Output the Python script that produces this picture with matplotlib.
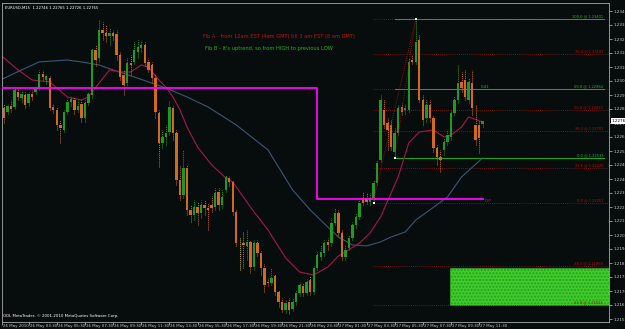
import matplotlib
matplotlib.use('Agg')
import matplotlib.pyplot as plt
import matplotlib.transforms as mtransforms
from matplotlib.patches import Rectangle
import numpy as np

# EURUSD M15, 26-27 May 2010 (prices)
opens = [1.22845, 1.22820, 1.22858, 1.22851, 1.22945, 1.22908, 1.22926, 1.22876, 1.22933, 1.22945,
         1.22970, 1.23058, 1.23020, 1.23033, 1.22851, 1.22833, 1.22739, 1.22708, 1.22820, 1.22883,
         1.22895, 1.22833, 1.22870, 1.22783, 1.22876, 1.22926, 1.23208, 1.23158, 1.23332, 1.23314,
         1.23295, 1.23314, 1.23308, 1.23176, 1.23051, 1.23001, 1.23126, 1.23133, 1.23195, 1.23220,
         1.23239, 1.23133, 1.23114, 1.23033, 1.22814, 1.22626, 1.22664, 1.22695, 1.22845, 1.22689,
         1.22395, 1.22301, 1.22470, 1.22208, 1.22176, 1.22226, 1.22189, 1.22239, 1.22220, 1.22239,
         1.22226, 1.22320, 1.22239, 1.22333, 1.22408, 1.22383, 1.22195, 1.22001, 1.22001, 1.21983,
         1.22008, 1.21851, 1.22001, 1.21939, 1.21845, 1.21758, 1.21751, 1.21795, 1.21695, 1.21633,
         1.21583, 1.21633, 1.21589, 1.21633, 1.21689, 1.21733, 1.21689, 1.21770, 1.21695, 1.21845,
         1.21914, 1.21939, 1.22008, 1.22001, 1.22126, 1.22189, 1.22064, 1.21914, 1.21970, 1.22033,
         1.22114, 1.22164, 1.22283, 1.22283, 1.22258, 1.22283, 1.22376, 1.22520, 1.22833, 1.22751,
         1.22739, 1.22570, 1.22689, 1.22851, 1.22833, 1.22833, 1.23145, 1.23133, 1.23270, 1.22895,
         1.22783, 1.22864, 1.22783, 1.22595, 1.22539, 1.22583, 1.22633, 1.22664, 1.22814, 1.22895,
         1.23008, 1.23020, 1.22895, 1.23001, 1.22739, 1.22739, 1.22746]
highs = [1.22870, 1.22870, 1.22895, 1.22970, 1.22970, 1.22958, 1.22945, 1.22945, 1.22958, 1.22983,
         1.23083, 1.23083, 1.23058, 1.23045, 1.22870, 1.22851, 1.22770, 1.22833, 1.22908, 1.22920,
         1.22914, 1.22895, 1.22895, 1.22895, 1.22945, 1.23220, 1.23239, 1.23395, 1.23382, 1.23364,
         1.23345, 1.23332, 1.23332, 1.23195, 1.23083, 1.23158, 1.23176, 1.23258, 1.23270, 1.23270,
         1.23258, 1.23158, 1.23133, 1.23058, 1.22833, 1.22708, 1.22739, 1.22895, 1.22864, 1.22708,
         1.22483, 1.22583, 1.22489, 1.22239, 1.22270, 1.22258, 1.22270, 1.22270, 1.22251, 1.22295,
         1.22345, 1.22345, 1.22333, 1.22426, 1.22420, 1.22395, 1.22208, 1.22039, 1.22070, 1.22083,
         1.22020, 1.22020, 1.22020, 1.21958, 1.21870, 1.21783, 1.21845, 1.21808, 1.21708, 1.21658,
         1.21645, 1.21658, 1.21658, 1.21708, 1.21758, 1.21751, 1.21776, 1.21795, 1.21858, 1.21945,
         1.21989, 1.22020, 1.22033, 1.22158, 1.22220, 1.22208, 1.22083, 1.21989, 1.22051, 1.22133,
         1.22189, 1.22270, 1.22320, 1.22314, 1.22314, 1.22395, 1.22520, 1.22926, 1.22895, 1.22783,
         1.22770, 1.22720, 1.22864, 1.22876, 1.22870, 1.23158, 1.23176, 1.23401, 1.23301, 1.22926,
         1.22895, 1.22895, 1.22801, 1.22614, 1.22583, 1.22658, 1.22708, 1.22833, 1.22920, 1.23114,
         1.23070, 1.23083, 1.23033, 1.23083, 1.22864, 1.22770, 1.22765]
lows = [1.22751, 1.22808, 1.22820, 1.22839, 1.22895, 1.22883, 1.22845, 1.22858, 1.22895, 1.22933,
        1.22958, 1.23020, 1.22995, 1.22833, 1.22814, 1.22708, 1.22626, 1.22695, 1.22808, 1.22858,
        1.22808, 1.22820, 1.22758, 1.22758, 1.22864, 1.22908, 1.23108, 1.23133, 1.23270, 1.23258,
        1.23239, 1.23270, 1.23145, 1.23020, 1.22926, 1.22983, 1.23051, 1.23120, 1.23158, 1.23195,
        1.23108, 1.23070, 1.23008, 1.22783, 1.22476, 1.22595, 1.22614, 1.22676, 1.22645, 1.22364,
        1.22270, 1.22283, 1.22176, 1.22133, 1.22145, 1.22114, 1.22158, 1.22176, 1.22083, 1.22195,
        1.22208, 1.22208, 1.22220, 1.22320, 1.22358, 1.22176, 1.21983, 1.21833, 1.21845, 1.21895,
        1.21814, 1.21833, 1.21920, 1.21801, 1.21695, 1.21733, 1.21739, 1.21676, 1.21601, 1.21570,
        1.21564, 1.21558, 1.21576, 1.21614, 1.21670, 1.21670, 1.21676, 1.21676, 1.21683, 1.21833,
        1.21895, 1.21920, 1.21958, 1.21983, 1.22114, 1.22045, 1.21895, 1.21895, 1.21958, 1.22020,
        1.22095, 1.22151, 1.22239, 1.22245, 1.22239, 1.22251, 1.22364, 1.22508, 1.22720, 1.22583,
        1.22583, 1.22533, 1.22676, 1.22801, 1.22808, 1.22820, 1.23120, 1.23120, 1.22883, 1.22739,
        1.22758, 1.22758, 1.22570, 1.22489, 1.22445, 1.22551, 1.22614, 1.22645, 1.22801, 1.22876,
        1.22945, 1.22895, 1.22876, 1.22801, 1.22614, 1.22564, 1.22726]
closes = [1.22783, 1.22858, 1.22839, 1.22958, 1.22914, 1.22933, 1.22864, 1.22933, 1.22914, 1.22964,
          1.23058, 1.23039, 1.23045, 1.22845, 1.22833, 1.22739, 1.22720, 1.22820, 1.22883, 1.22901,
          1.22833, 1.22858, 1.22783, 1.22876, 1.22933, 1.23208, 1.23145, 1.23332, 1.23314, 1.23295,
          1.23314, 1.23295, 1.23176, 1.23039, 1.22989, 1.23126, 1.23114, 1.23208, 1.23226, 1.23239,
          1.23126, 1.23083, 1.23033, 1.22820, 1.22626, 1.22664, 1.22689, 1.22851, 1.22689, 1.22395,
          1.22301, 1.22470, 1.22208, 1.22176, 1.22226, 1.22189, 1.22239, 1.22220, 1.22208, 1.22220,
          1.22314, 1.22239, 1.22289, 1.22414, 1.22383, 1.22195, 1.22001, 1.22001, 1.21989, 1.22008,
          1.21851, 1.22001, 1.21939, 1.21845, 1.21739, 1.21751, 1.21783, 1.21695, 1.21633, 1.21583,
          1.21626, 1.21583, 1.21633, 1.21689, 1.21739, 1.21689, 1.21758, 1.21695, 1.21845, 1.21926,
          1.21945, 1.22001, 1.21989, 1.22126, 1.22189, 1.22064, 1.21914, 1.21958, 1.22033, 1.22114,
          1.22164, 1.22251, 1.22251, 1.22258, 1.22283, 1.22376, 1.22501, 1.22895, 1.22739, 1.22708,
          1.22601, 1.22689, 1.22845, 1.22820, 1.22845, 1.23133, 1.23133, 1.23258, 1.22895, 1.22770,
          1.22864, 1.22783, 1.22595, 1.22539, 1.22520, 1.22633, 1.22676, 1.22814, 1.22895, 1.23001,
          1.22970, 1.22914, 1.23008, 1.22845, 1.22645, 1.22658, 1.22765]

# moving averages (bar index, value)
fast_idx = [-1, 4, 8, 13, 18, 22, 24, 27, 30, 33, 36, 39, 41, 44, 46, 48, 50, 52, 55, 59,
            63, 65, 70, 75, 80, 84, 88, 92, 95, 97, 101, 104, 107, 110, 112, 115, 118, 122, 125, 127,
            130, 132, 136]
fast_val = [1.23176, 1.23083, 1.23020, 1.23008, 1.22914, 1.22895, 1.22914, 1.23001, 1.23083, 1.23070,
            1.23070, 1.23114, 1.23101, 1.23020, 1.22976, 1.22914, 1.22833, 1.22726, 1.22601, 1.22489,
            1.22408, 1.22383, 1.22226, 1.22083, 1.21908, 1.21820, 1.21801, 1.21851, 1.21920, 1.21945,
            1.22001, 1.22064, 1.22164, 1.22314, 1.22414, 1.22626, 1.22695, 1.22708, 1.22664, 1.22676,
            1.22726, 1.22789, 1.22758]
slow_idx = [-1, 5, 10, 18, 22, 27, 31, 37, 42, 46, 52, 58, 66, 75, 78, 82, 87, 92, 95, 99,
            103, 107, 110, 114, 117, 121, 126, 130, 136]
slow_val = [1.23020, 1.23083, 1.23133, 1.23145, 1.23133, 1.23114, 1.23083, 1.23039, 1.23001, 1.22970,
            1.22914, 1.22851, 1.22739, 1.22583, 1.22476, 1.22333, 1.22208, 1.22101, 1.22039, 1.21989,
            1.21983, 1.22008, 1.22039, 1.22070, 1.22145, 1.22208, 1.22289, 1.22414, 1.22533]

# pivot line (magenta)
pivot_levels = [1.22970, 1.22276]
pivot_switch = 88.8   # midnight 27 May
pivot_end = 136

# Fibonacci objects
fibA_start, fibA_low_bar, fibA_high_bar = 105, 105, 117
fibA_levels = ['100.0', '76.4', '61.8', '50.0', '38.2', '23.6', '0.0', '-38.2', '-61.8']
fibA_prices = [1.23401, 1.23183, 1.22964, 1.22833, 1.22701, 1.22470, 1.22251, 1.21858, 1.21614]
fibB_start = 111
fibB_levels = ['100.0', '50.0', '0.0']
fibB_prices = [1.23401, 1.22964, 1.22533]

zone_start = 126.7
zone_top, zone_bottom = 1.21845, 1.21614

ytick_vals = [1.23451, 1.23364, 1.23276, 1.23189, 1.23101, 1.23014, 1.22926, 1.22839, 1.22751,
              1.22664, 1.22576, 1.22489, 1.22401, 1.22314, 1.22226, 1.22139, 1.22051, 1.21964,
              1.21876, 1.21789, 1.21701, 1.21614, 1.21526]

date_idx = [-0.5, 7, 15, 23, 31, 39, 47, 55, 63, 71, 79, 87, 95, 103, 111, 119, 127, 135]
date_lbl = ['26 May 2010', '26 May 03:30', '26 May 05:30', '26 May 07:30', '26 May 09:30',
            '26 May 11:30', '26 May 13:30', '26 May 15:30', '26 May 17:30', '26 May 19:30',
            '26 May 21:30', '26 May 23:30', '27 May 01:30', '27 May 03:30', '27 May 05:30',
            '27 May 07:30', '27 May 09:30', '27 May 11:30']

bg = '#070d0c'
bull = '#1f9a1f'
bear = '#d2691e'
doji = '#c8b020'
txt = '#c8c8c8'

fig = plt.figure(figsize=(6.25, 3.29), dpi=100, facecolor=bg)
ax = fig.add_axes([0.0032, 0.0213, 0.9712, 0.9711], facecolor=bg)

x = np.arange(len(opens))
o = np.array(opens); c = np.array(closes); h = np.array(highs); l = np.array(lows)
cols = [doji if oo == cc else (bull if cc > oo else bear) for oo, cc in zip(o, c)]

# wicks + bodies
ax.vlines(x, l, h, colors=cols, linewidth=0.7, linestyles=(0, (1, 1)), zorder=3)
body = np.maximum(np.abs(c - o), 0.00003)
ax.bar(x, body, bottom=np.minimum(o, c), width=0.68, color=cols, linewidth=0, zorder=4)

# moving averages
ax.plot(slow_idx, slow_val, color='#3a5674', lw=0.8, zorder=2)
ax.plot(fast_idx, fast_val, color='#a8154c', lw=0.8, zorder=2)

# magenta pivot line
ax.plot([-1, pivot_switch, pivot_switch, pivot_end],
        [pivot_levels[0], pivot_levels[0], pivot_levels[1], pivot_levels[1]],
        color='#ff00ff', lw=1.3, zorder=5)
ax.text(pivot_end + 0.5, pivot_levels[1], 'D.P', color='#c000c0', fontsize=3.0,
        va='top', ha='left', zorder=6)

xr = 171.9
# green zone
ax.add_patch(Rectangle((zone_start, zone_bottom), xr - zone_start, zone_top - zone_bottom,
                       facecolor='#3fcc2a', edgecolor='#2aa020', lw=0.6, hatch='.....', zorder=1))

# Fib A (red dotted)
for lv, p in zip(fibA_levels, fibA_prices):
    ax.plot([fibA_start - 0.2, xr], [p, p], color='#a01010', lw=0.6, ls=(0, (1, 1.5)), zorder=1.5)
    ax.text(170.2, p + 0.00002, f'{lv} @ {p:.5f}', color='#b01010', fontsize=2.6,
            ha='right', va='bottom', zorder=6)
ax.plot([fibA_low_bar - 0.2, fibA_high_bar], [fibA_prices[6], fibA_prices[0]],
        color='#b01010', lw=0.6, ls=(0, (1, 1.5)), zorder=5)

# Fib B (green)
for lv, p in zip(fibB_levels, fibB_prices):
    ax.plot([fibB_start, 170.6], [p, p], color='#1faa1f', lw=0.7, zorder=1.6)
    ax.text(170.2, p + 0.00002, f'{lv} @ {p:.5f}', color='#22bb22', fontsize=2.6,
            ha='right', va='bottom', zorder=7,
            bbox=dict(facecolor=bg, edgecolor='none', pad=0.2))
ax.plot([fibB_start, fibA_high_bar], [fibB_prices[2], fibB_prices[0]],
        color='#b01010', lw=0.6, ls=(0, (1, 1.5)), zorder=5)
ax.scatter([fibB_start, fibA_high_bar, fibA_low_bar], [fibB_prices[2], fibB_prices[0], fibA_prices[6]],
           s=2, color='white', marker='s', zorder=8, linewidths=0)
ax.text(135.5, fibB_prices[1], '0.41', color='#22bb22', fontsize=2.8, ha='left', va='bottom')

# notes
ax.text(56.5, 1.23295, 'Fib A - from 12am EST (4am GMT) till 3 am EST (8 am GMT)',
        color='#c81010', fontsize=3.7, va='center', ha='left')
ax.text(57.0, 1.23220, "Fib B - It's uptrend, so from HIGH to previous LOW",
        color='#22b022', fontsize=3.7, va='center', ha='left')
ax.text(0.005, 0.988, 'EURUSD,M15  1.22746 1.22765 1.22726 1.22765', transform=ax.transAxes,
        color='white', fontsize=2.7, va='top', ha='left')
ax.text(0.002, 0.012, 'ODL MetaTrader, \u00a9 2001-2010 MetaQuotes Software Corp.',
        transform=ax.transAxes, color='white', fontsize=2.8, va='bottom', ha='left')

ax.set_xlim(-0.57, xr)
ax.set_ylim(1.215075, 1.235044)

# axes styling
for s in ax.spines.values():
    s.set_color('#a8a8a8')
    s.set_linewidth(0.6)
ax.yaxis.tick_right()
ax.set_yticks(ytick_vals)
ax.set_yticklabels([f'{v:.5f}' for v in ytick_vals])
ax.tick_params(axis='y', colors=txt, labelsize=3.0, length=2, width=0.5, pad=1)
ax.set_xticks(date_idx)
ax.set_xticklabels([])
ax.tick_params(axis='x', colors=txt, length=2, width=0.5)
btrans = mtransforms.blended_transform_factory(ax.transData, ax.transAxes)
for xi, lb in zip(date_idx, date_lbl):
    ax.text(xi + 0.3, -0.006, lb, transform=btrans, color=txt, fontsize=2.9,
            ha='left', va='top', clip_on=False)

# current price marker
rtrans = mtransforms.blended_transform_factory(ax.transAxes, ax.transData)
ax.text(1.004, closes[-1], f'{closes[-1]:.5f}', transform=rtrans, color='black', fontsize=3.0,
        ha='left', va='center', bbox=dict(facecolor='white', edgecolor='none', pad=0.5))

fig.savefig('out.png', dpi=100, facecolor=bg)
